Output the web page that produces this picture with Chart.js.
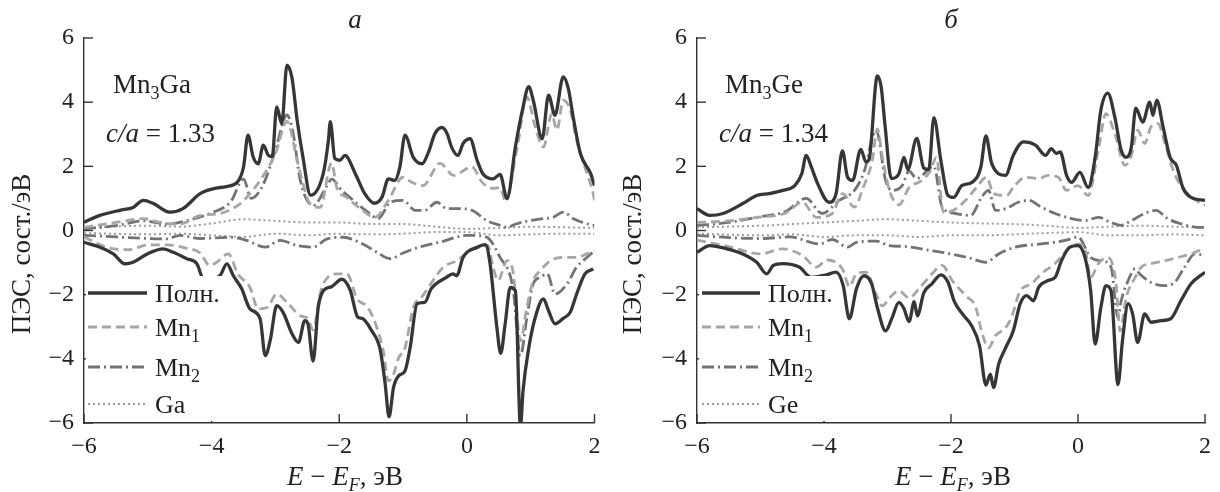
<!DOCTYPE html>
<html>
<head>
<meta charset="utf-8">
<script src="https://cdn.jsdelivr.net/npm/chart.js@4.4.0/dist/chart.umd.min.js"></script>
<style>
  html, body { margin: 0; padding: 0; background: #fff; }
  #wrap { position: relative; width: 1220px; height: 492px; }
  canvas { position: absolute; top: 0; }
</style>
</head>
<body>
<div id="wrap">
  <canvas id="chartA" width="610" height="492" style="left:0"></canvas>
  <canvas id="chartB" width="610" height="492" style="left:610px"></canvas>
</div>
<script>
// ---- data, Mn3Ga (panel а): [E - EF, DOS] ----
const gaTotUp = [[-6,0.26],[-5.75,0.47],[-5.44,0.63],[-5.23,0.72],[-5.07,0.94],[-4.92,0.85],[-4.65,0.57],[-4.45,0.68],[-4.18,1.15],[-3.98,1.3],[-3.77,1.37],[-3.6,1.5],[-3.5,1.98],[-3.43,2.97],[-3.35,2.3],[-3.27,2.08],[-3.19,2.66],[-3.11,2.34],[-3.05,2.3],[-2.98,3.85],[-2.9,3.33],[-2.82,5.15],[-2.74,4.75],[-2.66,3.44],[-2.57,2.3],[-2.45,1.1],[-2.25,1.78],[-2.17,2.8],[-2.14,3.39],[-2.07,2.25],[-1.99,2.19],[-1.91,2.34],[-1.75,1.78],[-1.6,1.15],[-1.45,0.85],[-1.33,1.04],[-1.23,1.61],[-1.13,1.56],[-1.05,1.98],[-0.97,2.97],[-0.84,2.28],[-0.7,2.08],[-0.6,2.45],[-0.5,3.02],[-0.39,3.21],[-0.31,3.02],[-0.24,2.6],[-0.14,2.34],[-0.06,2.71],[0.05,2.86],[0.16,2.19],[0.25,1.77],[0.41,1.61],[0.52,1.75],[0.63,0.99],[0.76,2.6],[0.87,3.75],[0.97,4.48],[1.04,4.06],[1.18,2.86],[1.28,4.22],[1.38,3.59],[1.51,4.79],[1.59,4.42],[1.67,3.49],[1.78,2.39],[1.94,1.77],[2.0,1.4]];
const gaTotDn = [[-6,-0.37],[-5.75,-0.52],[-5.54,-0.73],[-5.36,-1.04],[-5.23,-0.99],[-5.01,-0.73],[-4.76,-0.57],[-4.6,-0.68],[-4.39,-0.88],[-4.23,-1.04],[-4.13,-1.5],[-3.99,-1.51],[-3.87,-1.41],[-3.76,-1.04],[-3.66,-1.41],[-3.53,-1.81],[-3.4,-2.44],[-3.24,-2.75],[-3.16,-3.9],[-3.08,-3.4],[-2.98,-2.34],[-2.88,-2.55],[-2.74,-3.22],[-2.64,-3.49],[-2.54,-2.81],[-2.49,-2.91],[-2.41,-4.07],[-2.33,-2.4],[-2.25,-1.88],[-2.12,-1.75],[-1.96,-1.52],[-1.83,-1.85],[-1.71,-2.7],[-1.64,-2.74],[-1.49,-3.13],[-1.36,-3.7],[-1.28,-4.79],[-1.22,-5.81],[-1.15,-4.9],[-1.07,-4.53],[-0.97,-4.38],[-0.89,-3.66],[-0.78,-2.28],[-0.66,-2.24],[-0.56,-1.82],[-0.32,-1.46],[-0.22,-1.35],[-0.16,-1.41],[-0.06,-0.84],[0.16,-0.52],[0.29,-0.44],[0.36,-0.99],[0.47,-3.02],[0.53,-3.83],[0.6,-2.91],[0.68,-1.77],[0.76,-1.88],[0.84,-6.1],[0.88,-5.0],[0.97,-3.66],[1.07,-2.72],[1.2,-2.13],[1.28,-2.5],[1.38,-2.91],[1.51,-2.74],[1.62,-2.55],[1.72,-1.98],[1.85,-1.35],[1.98,-1.2]];
const gaMn1Up = [[-6,0.1],[-5.5,0.25],[-5.07,0.37],[-4.8,0.25],[-4.5,0.2],[-4.18,0.47],[-3.87,0.53],[-3.55,0.84],[-3.4,1.15],[-3.24,1.56],[-3.0,2.4],[-2.82,3.4],[-2.66,2.2],[-2.57,1.47],[-2.46,0.84],[-2.3,0.72],[-2.12,2.1],[-2.04,1.34],[-1.88,1.03],[-1.67,0.68],[-1.44,0.41],[-1.23,0.94],[-1.0,1.66],[-0.86,1.5],[-0.69,1.4],[-0.42,2.09],[-0.21,1.72],[0.08,1.98],[0.24,1.5],[0.41,1.31],[0.52,1.34],[0.6,0.94],[0.79,2.6],[0.94,4.16],[1.07,3.23],[1.2,2.6],[1.33,3.64],[1.41,3.13],[1.51,4.06],[1.62,3.75],[1.72,2.81],[1.83,2.09],[1.98,1.15],[2.0,0.94]];
const gaMn2Up = [[-6,0.05],[-5.5,0.15],[-5.07,0.3],[-4.7,0.2],[-4.4,0.3],[-4.03,0.53],[-3.7,0.9],[-3.5,1.6],[-3.38,1.0],[-3.2,1.4],[-3.0,2.5],[-2.82,3.6],[-2.72,3.0],[-2.61,1.56],[-2.41,0.78],[-2.19,1.4],[-2.12,1.6],[-1.96,1.25],[-1.78,0.94],[-1.55,0.57],[-1.39,0.37],[-1.2,0.88],[-1.0,0.94],[-0.81,0.63],[-0.66,0.63],[-0.47,0.88],[-0.31,0.68],[-0.11,0.68],[0.08,0.63],[0.31,0.31],[0.52,0.16],[0.63,0.1],[0.78,0.21],[0.99,0.31],[1.2,0.37],[1.35,0.41],[1.51,0.57],[1.67,0.37],[1.88,0.21],[2.0,0.16]];
const gaGaUp = [[-6,0.08],[-5,0.15],[-4.5,0.12],[-4,0.22],[-3.5,0.35],[-3,0.3],[-2.5,0.25],[-2,0.25],[-1.5,0.2],[-1,0.2],[-0.5,0.12],[0,0.05],[0.5,0.08],[1,0.12],[1.5,0.1],[2,0.08]];
const gaMn1Dn = [[-6,-0.2],[-5.6,-0.55],[-5.3,-0.6],[-5.0,-0.45],[-4.7,-0.45],[-4.4,-0.55],[-4.18,-0.7],[-4.03,-1.09],[-3.92,-0.99],[-3.74,-0.73],[-3.59,-1.35],[-3.4,-1.77],[-3.27,-2.44],[-3.13,-2.4],[-2.98,-1.98],[-2.8,-2.28],[-2.61,-2.66],[-2.49,-2.75],[-2.41,-3.1],[-2.3,-1.98],[-2.25,-1.66],[-2.03,-1.35],[-1.88,-1.35],[-1.72,-2.13],[-1.55,-2.4],[-1.41,-3.03],[-1.31,-3.75],[-1.23,-4.69],[-1.15,-4.48],[-1.07,-3.97],[-0.97,-3.66],[-0.84,-2.4],[-0.69,-2.03],[-0.53,-1.56],[-0.37,-1.14],[-0.16,-0.94],[0.05,-0.63],[0.21,-0.52],[0.33,-0.47],[0.41,-1.14],[0.49,-1.56],[0.63,-0.94],[0.72,-1.25],[0.84,-3.44],[0.94,-2.4],[1.04,-1.56],[1.15,-1.25],[1.31,-0.94],[1.51,-0.84],[1.72,-0.84],[1.88,-0.73],[2.0,-0.63]];
const gaMn2Dn = [[-6,-0.15],[-5.5,-0.2],[-5.0,-0.25],[-4.7,-0.26],[-4.5,-0.15],[-4.18,-0.25],[-3.71,-0.21],[-3.45,-0.31],[-3.16,-0.52],[-2.93,-0.31],[-2.66,-0.47],[-2.41,-0.52],[-2.19,-0.26],[-1.94,-0.21],[-1.63,-0.42],[-1.41,-0.68],[-1.2,-0.88],[-1.0,-0.7],[-0.8,-0.55],[-0.4,-0.35],[0.0,-0.15],[0.3,-0.2],[0.52,-0.84],[0.72,-1.77],[0.84,-3.9],[0.94,-2.72],[1.04,-1.66],[1.15,-1.46],[1.26,-1.35],[1.38,-1.98],[1.57,-1.66],[1.72,-1.14],[1.88,-0.84],[2.0,-0.63]];
const gaGaDn = [[-6,-0.08],[-5,-0.12],[-4.5,-0.1],[-4,-0.15],[-3.5,-0.2],[-3,-0.1],[-2.5,-0.15],[-2,-0.1],[-1.5,-0.12],[-1,-0.1],[-0.5,-0.05],[0,-0.05],[0.5,-0.15],[1,-0.12],[1.5,-0.1],[2,-0.1]];

// ---- data, Mn3Ge (panel б) ----
const geTotUp = [[-6,0.68],[-5.8,0.47],[-5.59,0.53],[-5.28,0.84],[-5.06,1.09],[-4.86,1.15],[-4.65,1.25],[-4.46,1.4],[-4.35,1.77],[-4.28,2.34],[-4.2,1.98],[-4.1,1.46],[-3.92,0.88],[-3.81,1.15],[-3.71,2.48],[-3.63,1.67],[-3.55,1.56],[-3.42,2.53],[-3.34,2.14],[-3.29,2.22],[-3.16,4.82],[-3.1,4.48],[-3.04,3.3],[-2.94,1.62],[-2.82,1.77],[-2.74,2.28],[-2.68,1.9],[-2.54,2.87],[-2.43,1.95],[-2.35,1.9],[-2.27,3.52],[-2.16,2.19],[-2.05,1.1],[-1.96,1.03],[-1.83,1.4],[-1.67,1.5],[-1.53,1.98],[-1.45,2.95],[-1.36,2.09],[-1.14,1.72],[-1.02,2.34],[-0.86,2.76],[-0.67,2.66],[-0.51,2.34],[-0.42,2.55],[-0.34,2.4],[-0.28,2.45],[-0.18,1.72],[-0.1,1.5],[0.03,1.81],[0.16,1.34],[0.27,2.28],[0.36,3.75],[0.47,4.28],[0.58,3.53],[0.68,2.5],[0.76,2.28],[0.84,2.6],[0.91,3.81],[1.02,3.38],[1.13,4.0],[1.18,3.59],[1.24,4.06],[1.34,3.23],[1.45,2.28],[1.55,2.03],[1.65,1.34],[1.78,1.03],[2.0,0.94]];
const geTotDn = [[-6,-0.68],[-5.8,-0.47],[-5.53,-0.57],[-5.28,-0.73],[-5.06,-0.99],[-4.9,-1.35],[-4.8,-1.09],[-4.65,-1.03],[-4.39,-1.14],[-4.2,-1.46],[-3.96,-1.38],[-3.81,-1.3],[-3.7,-1.7],[-3.6,-2.75],[-3.49,-1.82],[-3.37,-1.41],[-3.25,-1.66],[-3.16,-2.4],[-3.03,-3.13],[-2.93,-2.73],[-2.82,-2.24],[-2.74,-2.44],[-2.66,-2.84],[-2.58,-2.22],[-2.53,-2.66],[-2.43,-1.95],[-2.3,-1.66],[-2.16,-1.38],[-2.05,-1.6],[-1.95,-2.2],[-1.82,-2.6],[-1.68,-2.95],[-1.55,-3.6],[-1.45,-4.82],[-1.38,-4.48],[-1.33,-4.9],[-1.25,-4.17],[-1.14,-3.66],[-1.02,-3.13],[-0.91,-2.28],[-0.81,-2.03],[-0.7,-2.19],[-0.62,-1.77],[-0.47,-1.56],[-0.36,-1.46],[-0.26,-0.94],[-0.13,-0.52],[0.0,-0.47],[0.11,-0.84],[0.2,-1.88],[0.27,-3.54],[0.36,-2.4],[0.44,-1.72],[0.52,-1.88],[0.63,-4.8],[0.7,-3.44],[0.79,-2.28],[0.86,-2.6],[0.94,-3.49],[1.05,-2.6],[1.15,-2.86],[1.31,-2.81],[1.46,-2.75],[1.62,-2.19],[1.78,-1.66],[2.0,-1.3]];
const geMn1Up = [[-6,0.25],[-5.5,0.3],[-5.06,0.41],[-4.6,0.55],[-4.34,0.88],[-4.12,0.41],[-3.87,0.53],[-3.71,1.15],[-3.52,0.73],[-3.39,1.3],[-3.24,2.19],[-3.16,3.17],[-3.08,2.28],[-2.97,1.25],[-2.82,0.8],[-2.66,1.34],[-2.46,1.56],[-2.32,1.88],[-2.23,2.28],[-2.12,0.57],[-1.96,0.63],[-1.77,0.94],[-1.6,1.34],[-1.44,1.66],[-1.33,1.15],[-1.12,1.09],[-1.02,1.34],[-0.83,1.66],[-0.62,1.62],[-0.47,1.72],[-0.31,1.66],[-0.18,1.25],[0.0,1.4],[0.16,1.09],[0.32,2.5],[0.44,3.64],[0.58,3.02],[0.74,2.03],[0.84,2.34],[0.94,3.13],[1.05,2.71],[1.15,3.23],[1.26,3.33],[1.37,2.71],[1.52,1.77],[1.68,1.25],[1.86,0.94],[2.0,0.78]];
const geMn2Up = [[-6,0.15],[-5.5,0.25],[-5.06,0.41],[-4.6,0.6],[-4.28,1.0],[-4.03,0.53],[-3.76,0.94],[-3.52,1.25],[-3.37,1.82],[-3.18,3.13],[-3.03,1.56],[-2.93,1.25],[-2.77,1.4],[-2.66,1.85],[-2.54,1.62],[-2.27,2.0],[-2.14,0.73],[-1.93,0.53],[-1.69,0.47],[-1.52,1.03],[-1.41,1.25],[-1.3,0.63],[-1.14,0.68],[-0.94,0.88],[-0.78,0.94],[-0.58,0.73],[-0.36,0.53],[-0.1,0.37],[0.11,0.31],[0.32,0.41],[0.52,0.25],[0.68,0.16],[0.84,0.31],[1.05,0.53],[1.23,0.63],[1.41,0.37],[1.62,0.21],[1.89,0.1],[2.0,0.1]];
const geGeUp = [[-6,0.1],[-5,0.15],[-4.5,0.2],[-4,0.25],[-3.5,0.3],[-3,0.35],[-2.5,0.3],[-2,0.25],[-1.5,0.22],[-1,0.2],[-0.5,0.15],[0,0.08],[0.5,0.12],[1,0.15],[1.5,0.12],[2,0.1]];
const geMn1Dn = [[-6,-0.3],[-5.5,-0.5],[-5.0,-0.73],[-4.65,-0.57],[-4.34,-0.78],[-4.12,-1.14],[-3.95,-0.92],[-3.71,-1.2],[-3.6,-1.75],[-3.49,-1.35],[-3.34,-1.3],[-3.18,-1.98],[-3.08,-2.35],[-2.97,-2.1],[-2.82,-1.88],[-2.66,-2.1],[-2.5,-1.8],[-2.3,-1.35],[-2.14,-1.09],[-1.98,-1.56],[-1.77,-2.03],[-1.61,-2.4],[-1.52,-3.13],[-1.41,-3.66],[-1.3,-3.28],[-1.14,-3.03],[-1.05,-2.72],[-0.91,-1.88],[-0.73,-1.66],[-0.58,-1.35],[-0.36,-1.03],[-0.15,-0.57],[0.0,-0.42],[0.11,-0.57],[0.2,-1.46],[0.32,-1.03],[0.47,-0.84],[0.6,-1.66],[0.66,-3.13],[0.76,-2.08],[0.9,-1.46],[1.0,-1.14],[1.15,-1.03],[1.37,-0.94],[1.57,-0.84],[1.78,-0.73],[1.92,-0.63],[2.0,-0.7]];
const geMn2Dn = [[-6,-0.15],[-5.5,-0.22],[-5.0,-0.25],[-4.54,-0.2],[-4.07,-0.42],[-3.87,-0.28],[-3.63,-0.52],[-3.49,-0.37],[-3.18,-0.33],[-2.97,-0.47],[-2.7,-0.5],[-2.39,-0.6],[-2.03,-0.72],[-1.72,-0.85],[-1.45,-0.99],[-1.25,-0.73],[-0.99,-0.52],[-0.58,-0.42],[-0.2,-0.31],[0.0,-0.2],[0.2,-0.84],[0.36,-0.94],[0.52,-1.14],[0.63,-2.72],[0.68,-2.19],[0.79,-1.56],[0.9,-1.19],[0.97,-1.35],[1.15,-1.62],[1.37,-1.72],[1.52,-1.62],[1.68,-1.14],[1.84,-0.73],[2.0,-0.78]];
const geGeDn = [[-6,-0.1],[-5,-0.15],[-4.5,-0.12],[-4,-0.2],[-3.5,-0.15],[-3,-0.15],[-2.5,-0.2],[-2,-0.15],[-1.5,-0.15],[-1,-0.12],[-0.5,-0.08],[0,-0.05],[0.5,-0.15],[1,-0.15],[1.5,-0.12],[2,-0.15]];

const xTicks = [-6, -4, -2, 0, 2];
const yTicks = [-6, -4, -2, 0, 2, 4, 6];

// ---- styles ----
const SERIF = '"Liberation Serif", "Times New Roman", Times, "DejaVu Serif", serif';
const INK = '#222';
const sTot = { borderColor: '#363636', borderWidth: 3.3 };
const sMn1 = { borderColor: '#a6a6a6', borderWidth: 2.8, borderDash: [9, 5] };
const sMn2 = { borderColor: '#737373', borderWidth: 2.8, borderDash: [12, 4, 2, 4] };
const sX = { borderColor: '#9c9c9c', borderWidth: 2, borderDash: [2, 3] };

function pts(a) { return a.map(p => ({ x: p[0], y: p[1] })); }
function series(data, style) {
  return Object.assign({ data: pts(data), pointRadius: 0, fill: false, cubicInterpolationMode: 'monotone' }, style);
}
function minus(v) { return String(v).replace('-', '\u2212'); }

// mixed text: parts = [[text, flags]], flags: 'i' italic, 's' subscript
function rich(ctx, parts, x, y, size, align) {
  const fnt = f => (f.includes('i') ? 'italic ' : '') + Math.round(f.includes('s') ? size * 0.68 : size) + 'px ' + SERIF;
  let w = 0;
  parts.forEach(p => { ctx.font = fnt(p[1]); w += ctx.measureText(p[0]).width; });
  let cx = align === 'center' ? x - w / 2 : x;
  ctx.textAlign = 'left';
  ctx.textBaseline = 'alphabetic';
  parts.forEach(p => {
    ctx.font = fnt(p[1]);
    ctx.fillText(p[0], cx, y + (p[1].includes('s') ? size * 0.22 : 0));
    cx += ctx.measureText(p[0]).width;
  });
}

function decor(cfg) {
  return {
    id: 'decor',
    afterDatasetsDraw(chart) {
      const ctx = chart.ctx;
      const xs = chart.scales.x, ys = chart.scales.y;
      const L = chart.chartArea.left, B = chart.chartArea.bottom;
      ctx.save();
      // inward ticks
      ctx.strokeStyle = '#333';
      ctx.lineWidth = 1.4;
      ctx.setLineDash([]);
      yTicks.forEach(v => {
        const py = ys.getPixelForValue(v);
        ctx.beginPath(); ctx.moveTo(L, py); ctx.lineTo(L + 9, py); ctx.stroke();
      });
      xTicks.forEach(v => {
        const px = xs.getPixelForValue(v);
        ctx.beginPath(); ctx.moveTo(px, B); ctx.lineTo(px, B - 9); ctx.stroke();
      });
      // legend box
      ctx.fillStyle = '#fff';
      ctx.fillRect(cfg.box[0], cfg.box[1], cfg.box[2], cfg.box[3]);
      const entries = [
        [sTot, [['Полн.', '']]],
        [sMn1, [['Mn', ''], ['1', 's']]],
        [sMn2, [['Mn', ''], ['2', 's']]],
        [sX, [[cfg.el, '']]]
      ];
      entries.forEach((e, i) => {
        const y = cfg.rows[i];
        ctx.strokeStyle = e[0].borderColor;
        ctx.lineWidth = e[0].borderWidth;
        ctx.setLineDash(e[0].borderDash || []);
        ctx.beginPath(); ctx.moveTo(cfg.legX[0], y); ctx.lineTo(cfg.legX[1], y); ctx.stroke();
        ctx.setLineDash([]);
        ctx.fillStyle = INK;
        rich(ctx, e[1], cfg.legX[2], y + 9, 26, 'left');
      });
      // annotations
      ctx.fillStyle = INK;
      rich(ctx, [[cfg.letter, 'i']], cfg.letterX, 28, 27, 'center');
      rich(ctx, [['Mn', ''], ['3', 's'], [cfg.el, '']], cfg.nameX, 93, 27, 'left');
      rich(ctx, [['c/a', 'i'], [' = ' + cfg.ratio, '']], cfg.ratioX, 142, 27, 'left');
      rich(ctx, [['E', 'i'], [' \u2212 ', ''], ['E', 'i'], ['F', 'is'], [', эВ', '']], cfg.xTitleX, 485, 27, 'center');
      ctx.translate(cfg.yTitleX, 254);
      ctx.rotate(-Math.PI / 2);
      ctx.font = '27px ' + SERIF;
      ctx.textAlign = 'center';
      ctx.textBaseline = 'middle';
      ctx.fillText('ПЭС, сост./эВ', 0, 0);
      ctx.restore();
    }
  };
}

function makeChart(id, sets, cfg) {
  new Chart(document.getElementById(id), {
    type: 'line',
    data: { datasets: sets },
    options: {
      responsive: false,
      animation: false,
      events: [],
      layout: { padding: { top: 38, right: cfg.padRight, left: 0, bottom: 0 } },
      plugins: { legend: { display: false }, tooltip: { enabled: false } },
      scales: {
        x: {
          type: 'linear', min: -6, max: 2,
          afterFit: s => { s.height = 69; },
          afterBuildTicks: s => { s.ticks = xTicks.map(v => ({ value: v })); },
          grid: { display: false, drawTicks: false },
          border: { display: true, color: '#333', width: 1.4 },
          ticks: { color: INK, padding: 9, maxRotation: 0, font: { family: SERIF, size: 24 }, callback: v => minus(v) }
        },
        y: {
          min: -6, max: 6,
          afterFit: s => { s.width = cfg.yWidth; },
          afterBuildTicks: s => { s.ticks = yTicks.map(v => ({ value: v })); },
          grid: { display: false, drawTicks: false },
          border: { display: true, color: '#333', width: 1.4 },
          ticks: { color: INK, padding: 10, font: { family: SERIF, size: 24 }, callback: v => minus(v) }
        }
      }
    },
    plugins: [decor(cfg)]
  });
}

makeChart('chartA', [
  series(gaTotUp, sTot), series(gaTotDn, sTot),
  series(gaMn1Up, sMn1), series(gaMn1Dn, sMn1),
  series(gaMn2Up, sMn2), series(gaMn2Dn, sMn2),
  series(gaGaUp, sX), series(gaGaDn, sX)
], {
  el: 'Ga', ratio: '1.33', letter: 'а', padRight: 15.5, yWidth: 84,
  letterX: 355, nameX: 113, ratioX: 106, xTitleX: 345, yTitleX: 23,
  box: [86, 276, 142, 145], rows: [293, 327, 367, 404], legX: [88, 147, 155]
});

makeChart('chartB', [
  series(geTotUp, sTot), series(geTotDn, sTot),
  series(geMn1Up, sMn1), series(geMn1Dn, sMn1),
  series(geMn2Up, sMn2), series(geMn2Dn, sMn2),
  series(geGeUp, sX), series(geGeDn, sX)
], {
  el: 'Ge', ratio: '1.34', letter: 'б', padRight: 12.7, yWidth: 87,
  letterX: 341, nameX: 115, ratioX: 109, xTitleX: 343, yTitleX: 24,
  box: [89, 276, 138, 145], rows: [293, 327, 367, 404], legX: [92, 150, 158]
});
</script>
</body>
</html>
